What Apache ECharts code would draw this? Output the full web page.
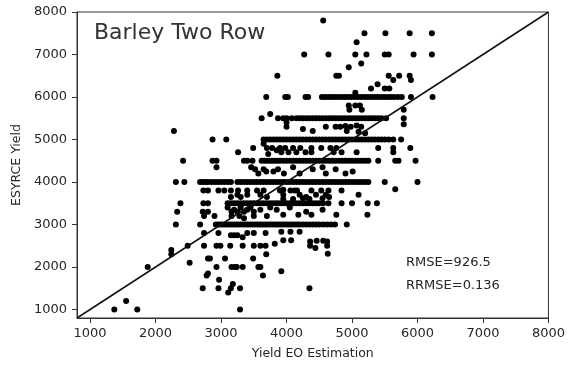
<!DOCTYPE html>
<html>
<head>
<meta charset="utf-8">
<script src="https://cdn.jsdelivr.net/npm/echarts@6/dist/echarts.min.js"></script>
<style>
  html, body { margin: 0; padding: 0; background: #fff; }
  #chart { width: 568px; height: 365px; }
</style>
</head>
<body>
<div id="chart"></div>
<script>
// axis ticks
const tickValues = [1000, 2000, 3000, 4000, 5000, 6000, 7000, 8000];
const axisMin = 800;
const axisMax = 8000;

// reported yields fall mostly on round values -> horizontal bands
const bandYields = [3000, 3500, 4000, 4500, 5000, 5500, 6000, 7000, 7500];
const bandEstimates = [
  // 3000
  [2310, 2680, 2920, 2960, 3000, 3040, 3080, 3120, 3160, 3200, 3240, 3280, 3320, 3360, 3400, 3440, 3480, 3520, 3560, 3600,
   3640, 3680, 3720, 3760, 3800, 3840, 3880, 3920, 3960, 4000, 4040, 4080, 4120, 4160, 4200, 4250, 4300, 4350, 4400, 4450,
   4500, 4560, 4620, 4680, 4740, 4920],
  // 3500
  [2380, 2730, 2800, 3100, 3150, 3200, 3250, 3300, 3350, 3400, 3450, 3500, 3550, 3600, 3650, 3700, 3750, 3800, 3850, 3900,
   3950, 4000, 4050, 4100, 4150, 4200, 4250, 4300, 4350, 4400, 4450, 4500, 4560, 4640, 4840, 5000, 5240, 5380],
  // 4000
  [2310, 2440, 2680, 2720, 2760, 2800, 2850, 2900, 2950, 3000, 3050, 3100, 3150, 3250, 3300, 3350, 3400, 3450, 3500, 3550,
   3600, 3650, 3700, 3750, 3800, 3850, 3900, 3950, 4000, 4050, 4100, 4150, 4200, 4250, 4300, 4350, 4400, 4450, 4500, 4550,
   4600, 4650, 4700, 4750, 4800, 4850, 4900, 4950, 5000, 5050, 5100, 5150, 5200, 5250, 5500, 6000],
  // 4500
  [2420, 2870, 2930, 3350, 3400, 3480, 3620, 3660, 3700, 3740, 3780, 3820, 3860, 3900, 3950, 4000, 4050, 4100, 4150, 4200,
   4250, 4300, 4350, 4400, 4450, 4500, 4550, 4600, 4650, 4700, 4750, 4800, 4850, 4900, 4950, 5000, 5050, 5100, 5150, 5200,
   5250, 5400, 5660, 5710, 5970],
  // 5000
  [2870, 3080, 3650, 3700, 3750, 3800, 3850, 3900, 3950, 4000, 4050, 4100, 4150, 4200, 4250, 4300, 4350, 4400, 4450, 4500,
   4550, 4600, 4650, 4700, 4750, 4800, 4850, 4900, 4950, 5000, 5050, 5100, 5150, 5200, 5250, 5300, 5350, 5400, 5450, 5500,
   5560, 5630, 5750],
  // 5500
  [3620, 3870, 3950, 4000, 4080, 4150, 4200, 4250, 4300, 4350, 4400, 4450, 4500, 4550, 4600, 4650, 4700, 4750, 4800, 4850,
   4900, 4950, 5000, 5050, 5100, 5150, 5200, 5250, 5300, 5350, 5400, 5450, 5520, 5790],
  // 6000
  [3690, 3980, 4020, 4290, 4330, 4540, 4590, 4640, 4690, 4740, 4790, 4840, 4890, 4940, 4990, 5040, 5090, 5140, 5190, 5240,
   5290, 5340, 5390, 5440, 5490, 5540, 5590, 5640, 5700, 5760, 5900, 6230],
  // 7000
  [4270, 4640, 5050, 5220, 5500, 5560, 5940, 6220],
  // 7500
  [5190, 5510, 5880, 6220]
];

// points off the round-value bands [estimation, ESYRCE]
const scatteredPoints = [
  [4560, 7800], [5070, 7290], [5140, 6790], [4950, 6700], [3860, 6500], [4760, 6500], [4800, 6500], [5560, 6500],
  [5720, 6500], [5880, 6500], [5630, 6400], [5900, 6400], [5390, 6300], [5290, 6200], [5500, 6200], [5570, 6200],
  [5050, 6100],
  [3750, 5600], [4000, 5400], [4950, 5800], [5050, 5800], [5120, 5800], [4960, 5700], [5150, 5700], [5790, 5700],
  [4750, 5300], [4820, 5300], [4900, 5320], [4980, 5300], [5070, 5330], [5140, 5300], [5790, 5360], [4920, 5200],
  [5100, 5180], [5200, 5150], [4400, 5200], [4250, 5250], [4000, 5300], [4600, 5300], [2280, 5200],
  [3260, 4700], [3490, 4800], [3650, 4900], [3700, 4800], [3780, 4800], [3850, 4750], [3900, 4800], [3980, 4800],
  [4100, 4800], [4210, 4800], [4380, 4800], [4530, 4800], [4670, 4800], [4760, 4800], [5400, 4800], [5630, 4800],
  [5890, 4800], [3920, 4700], [4030, 4700], [4150, 4700], [4290, 4700], [4380, 4700], [4720, 4700], [4840, 4700],
  [5070, 4700], [5630, 4700], [3720, 4660],
  [2930, 4350], [3460, 4350], [3570, 4200], [3690, 4250], [3800, 4250], [3960, 4200], [3520, 4300], [3650, 4300],
  [3870, 4300], [4100, 4350], [4400, 4300], [4550, 4350], [4750, 4300], [5010, 4250], [4200, 4200], [4600, 4200],
  [4900, 4200],
  [2730, 3800], [2800, 3800], [2960, 3800], [3050, 3800], [3150, 3800], [3260, 3800], [3400, 3800], [3550, 3800],
  [3650, 3800], [3900, 3800], [3950, 3820], [4060, 3800], [4120, 3800], [4160, 3800], [4380, 3800], [4530, 3800],
  [4640, 3800], [4840, 3800], [5660, 3830],
  [3150, 3650], [3250, 3700], [3300, 3650], [3400, 3700], [3600, 3700], [3700, 3650], [3950, 3700], [4200, 3700],
  [4300, 3650], [4450, 3700], [4600, 3700], [5100, 3700], [3950, 3600], [4100, 3600], [4250, 3620], [4350, 3600],
  [4550, 3620], [4650, 3650],
  [2330, 3300], [2720, 3300], [2800, 3300], [3100, 3400], [3160, 3300], [3200, 3350], [3250, 3300], [3300, 3400],
  [3350, 3300], [3400, 3350], [3450, 3400], [3500, 3300], [3600, 3350], [3750, 3400], [3850, 3350], [4050, 3400],
  [4300, 3300], [4550, 3350],
  [2740, 3200], [2900, 3200], [3160, 3200], [3280, 3200], [3350, 3150], [3500, 3200], [3700, 3200], [3950, 3230],
  [4180, 3230], [4380, 3230], [4760, 3230], [5235, 3230],
  [2740, 2800], [2960, 2800], [3150, 2750], [3200, 2750], [3250, 2750], [3330, 2700], [3400, 2800], [3500, 2800],
  [3680, 2800], [3920, 2830], [4060, 2830], [4200, 2830],
  [2490, 2500], [2740, 2500], [2930, 2500], [2990, 2500], [3140, 2500], [3330, 2500], [3500, 2500], [3600, 2500],
  [3680, 2500], [3820, 2550], [3950, 2630], [4070, 2630], [4360, 2600], [4460, 2620], [4560, 2620], [4620, 2600],
  [4360, 2500], [4620, 2500], [4630, 2310], [4440, 2450],
  [2240, 2400], [2240, 2300], [2520, 2100], [2800, 2200], [2830, 2200], [3060, 2200], [3490, 2200], [3690, 2300],
  [1880, 2000], [2930, 2000], [3160, 2000], [3210, 2000], [3240, 2000], [3330, 2000], [3570, 2000], [3600, 2000],
  [2780, 1800], [2800, 1850], [3640, 1800], [3920, 1900], [2970, 1700], [2720, 1500], [2960, 1500], [3110, 1400],
  [3150, 1500], [3180, 1600], [3290, 1500], [4350, 1500],
  [1370, 1000], [1550, 1200], [1720, 1000], [3290, 1000]
];

const statLines = ['RMSE=926.5', 'RRMSE=0.136'];

const FONT = '"DejaVu Sans", Verdana, sans-serif';
const TXT = '#262626';

let points = [];
bandEstimates.forEach((xs, i) => {
  xs.forEach(x => points.push([x, bandYields[i]]));
});
points = points.concat(scatteredPoints);

const chart = echarts.init(document.getElementById('chart'), null, { renderer: 'canvas' });

const axisCommon = {
  type: 'value',
  min: axisMin,
  max: axisMax,
  nameLocation: 'middle',
  nameTextStyle: { fontFamily: FONT, fontSize: 12.5, color: TXT },
  axisLine: { show: true, lineStyle: { color: '#333', width: 1 } },
  axisTick: { show: true, length: 5, lineStyle: { color: '#333', width: 1 }, customValues: tickValues },
  axisLabel: {
    fontFamily: FONT, fontSize: 13, color: TXT, customValues: tickValues,
    formatter: v => String(v)
  },
  splitLine: { show: false }
};

chart.setOption({
  animation: false,
  backgroundColor: '#fff',
  title: {
    text: 'Barley Two Row',
    left: 89,
    top: 17,
    textStyle: { fontFamily: FONT, fontSize: 22, fontWeight: 'normal', color: '#333' }
  },
  grid: {
    left: 77, right: 18, top: 12, bottom: 46,
    show: true, borderColor: '#333', borderWidth: 1
  },
  xAxis: Object.assign({}, axisCommon, {
    name: 'Yield EO Estimation',
    nameGap: 29,
    axisLabel: Object.assign({}, axisCommon.axisLabel, { margin: 9 })
  }),
  yAxis: Object.assign({}, axisCommon, {
    name: 'ESYRCE Yield',
    nameGap: 52,
    axisLabel: Object.assign({}, axisCommon.axisLabel, { margin: 10 })
  }),
  graphic: statLines.map((t, i) => ({
    type: 'text',
    left: 406,
    top: 256 + i * 23,
    style: { text: t, font: '13px ' + FONT, fill: TXT }
  })),
  series: [
    {
      type: 'scatter',
      data: points,
      symbol: 'circle',
      symbolSize: 6,
      itemStyle: { color: '#000', opacity: 1 }
    },
    {
      type: 'line',
      data: [[axisMin, axisMin], [axisMax, axisMax]],
      symbol: 'none',
      lineStyle: { color: '#111', width: 1.5 },
      z: 3
    }
  ]
});
</script>
</body>
</html>
